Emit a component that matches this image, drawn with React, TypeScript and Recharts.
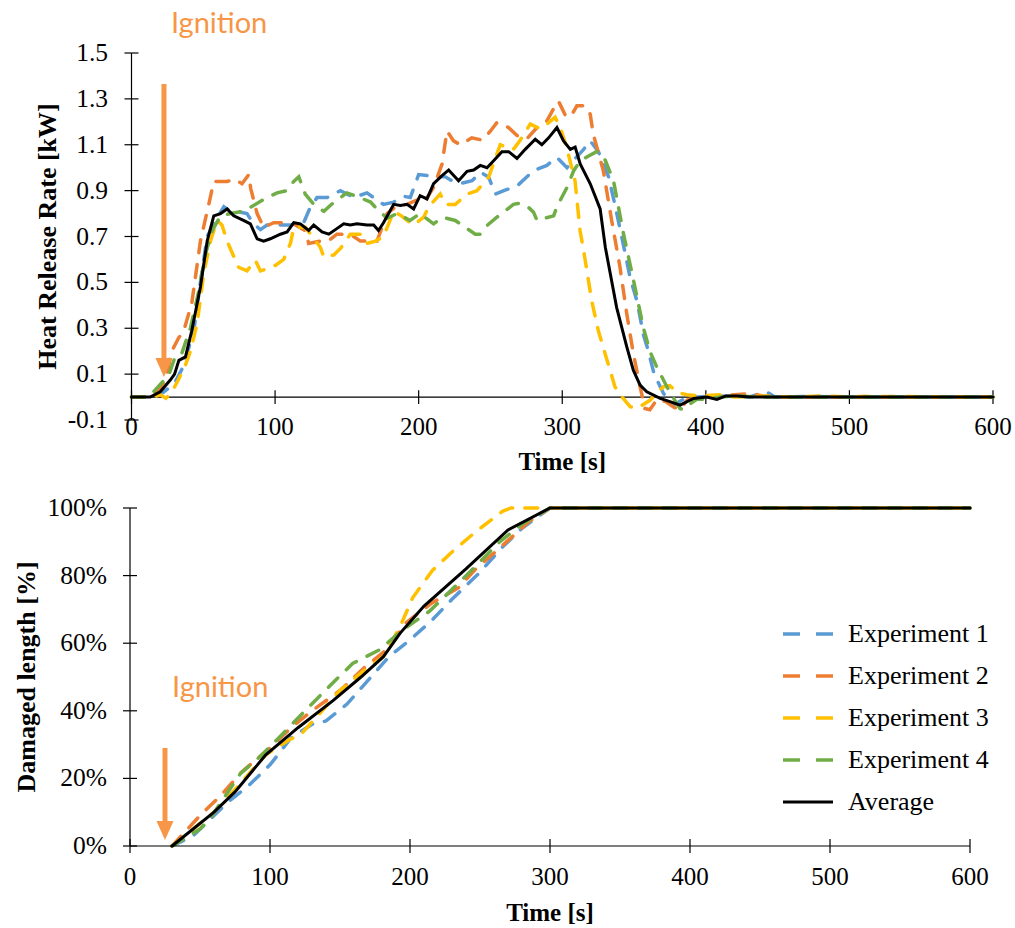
import React from "react";
import { LineChart, Line, XAxis, YAxis, ReferenceLine, Legend } from "recharts";

type Pt = [number, number];

// heat release rate [kW] vs time [s]
const hrrExp1: Pt[] = [
  [0, 0], [15, 0], [22, 0.02], [30, 0.06], [35, 0.12], [38.7, 0.19], [43.4, 0.29], [48, 0.5], [52.7, 0.7],
  [58.5, 0.77], [64.3, 0.83], [68.8, 0.81], [76, 0.806], [80.4, 0.8], [85, 0.755], [89.8, 0.73], [94.4, 0.75],
  [103.7, 0.75], [110.7, 0.75], [119.9, 0.76], [124, 0.82], [129.2, 0.87], [136.3, 0.87], [145.5, 0.9],
  [154.8, 0.87], [164, 0.89], [175.5, 0.84], [182.6, 0.85], [189.6, 0.875], [194.2, 0.87], [200, 0.97],
  [208, 0.964], [218.6, 0.96], [223.2, 0.943], [230.2, 0.933], [237.2, 0.943], [243, 0.98], [248.7, 0.96],
  [253.4, 0.885], [259.3, 0.9], [268.5, 0.92], [280, 0.987], [289.3, 1.01], [296.3, 1.045], [303.3, 1.0],
  [309, 1.04], [314.9, 1.08], [319.5, 1.117], [325.2, 1.07], [332.4, 0.958], [338, 0.8], [342.7, 0.66],
  [347.3, 0.52], [352, 0.42], [356.6, 0.27], [360, 0.2], [364, 0.1], [370.5, 0.016], [377.5, -0.035],
  [384.4, -0.01], [393.7, 0], [410, 0.005], [430, 0], [438, 0.015], [443, 0.02], [448, 0], [470, 0.003],
  [500, 0], [600, 0],
];
const hrrExp2: Pt[] = [
  [0, 0], [12, 0], [18, 0.02], [24, 0.08], [28, 0.2], [33, 0.26], [36, 0.28], [42, 0.41], [48, 0.68],
  [53.8, 0.84], [57.3, 0.94], [62, 0.94], [66.6, 0.94], [72, 0.95], [77, 0.93], [81.7, 0.97], [83, 0.91],
  [87.5, 0.8], [92, 0.74], [99, 0.76], [106, 0.76], [113, 0.755], [121, 0.726], [123.4, 0.67], [131.5, 0.68],
  [137, 0.68], [143, 0.71], [152.4, 0.71], [159.4, 0.68], [164, 0.68], [171, 0.68], [178, 0.8], [185, 0.834],
  [192, 0.84], [199, 0.86], [204, 0.85], [210.4, 0.914], [216.3, 1.016], [219.7, 1.16], [224.3, 1.117],
  [229, 1.1], [237, 1.13], [244.5, 1.12], [250, 1.16], [254.5, 1.197], [262.6, 1.175], [268.5, 1.14],
  [275.4, 1.126], [282.4, 1.175], [289.3, 1.204], [295.1, 1.27], [297.4, 1.29], [302, 1.23], [305.6, 1.22],
  [310.2, 1.27], [316, 1.27], [319.5, 1.233], [321.6, 1.146], [328.6, 0.987], [334.4, 0.77], [340.2, 0.567],
  [344.9, 0.364], [349.5, 0.19], [354.2, 0.045], [357.6, -0.05], [361, -0.055], [366, -0.01], [372, -0.02],
  [378, -0.045], [382, -0.055], [387, -0.013], [395, 0], [420, 0.01], [430, 0.015], [440, 0.005], [460, 0],
  [600, 0],
];
const hrrExp3: Pt[] = [
  [0, 0], [15, 0], [20, 0.01], [24, -0.005], [28, 0.02], [33, 0.08], [37.6, 0.14], [41, 0.2], [45.7, 0.32],
  [50.3, 0.54], [55, 0.68], [59.6, 0.77], [63, 0.75], [66.6, 0.68], [70, 0.63], [74.6, 0.566], [80.4, 0.55],
  [86.3, 0.596], [89.8, 0.55], [95, 0.56], [100.2, 0.574], [106, 0.6], [110.7, 0.67], [113, 0.74], [121, 0.74],
  [126, 0.7], [131.5, 0.653], [134, 0.61], [141, 0.62], [145.8, 0.65], [152.4, 0.71], [159.4, 0.71], [164, 0.67],
  [170, 0.68], [175.5, 0.7], [182.6, 0.81], [188, 0.79], [191.9, 0.77], [196.5, 0.75], [203.5, 0.784],
  [207, 0.83], [215, 0.885], [218.6, 0.84], [225.5, 0.84], [233.7, 0.885], [240.6, 0.9], [248.7, 0.958],
  [256.8, 1.1], [266, 1.08], [270.7, 1.12], [277.7, 1.19], [284.6, 1.17], [289.3, 1.19], [295, 1.22],
  [298.6, 1.175], [303, 1.09], [308.9, 0.943], [312.4, 0.726], [315.9, 0.6], [320.5, 0.42], [325.1, 0.29],
  [329.8, 0.19], [336.7, 0.045], [340.4, 0.009], [347.3, -0.042], [352, -0.05], [357, -0.03], [361.3, -0.013],
  [366, 0.02], [370.5, 0.045], [375, 0.05], [380, 0.02], [386.8, 0.01], [395, 0.005], [410, 0.01], [420, 0],
  [440, 0.005], [460, 0], [480, 0.005], [500, 0], [510, 0.003], [600, 0],
];
const hrrExp4: Pt[] = [
  [0, 0], [12, 0], [17.5, 0.038], [26, 0.096], [30.6, 0.18], [35, 0.19], [41, 0.3], [46.8, 0.46], [51.4, 0.62],
  [56.2, 0.726], [62, 0.79], [69, 0.8], [78, 0.81], [85, 0.835], [94.4, 0.87], [101.4, 0.89], [108, 0.9],
  [113, 0.94], [116.5, 0.96], [121, 0.885], [127, 0.84], [134, 0.81], [141, 0.85], [150, 0.89], [157, 0.875],
  [166.5, 0.85], [171, 0.82], [178, 0.78], [185, 0.8], [194, 0.77], [201, 0.8], [210.4, 0.755], [216.3, 0.784],
  [225.5, 0.77], [229, 0.755], [239.4, 0.71], [242.9, 0.71], [248, 0.75], [254.5, 0.784], [260, 0.81],
  [266, 0.84], [270.7, 0.845], [276, 0.83], [280, 0.806], [282.4, 0.77], [288, 0.78], [294, 0.79],
  [296.3, 0.83], [303.3, 0.914], [308, 0.987], [312.5, 1.03], [318, 1.05], [324, 1.07], [328.8, 1.05],
  [335.7, 0.943], [342.7, 0.71], [349.6, 0.51], [356.6, 0.3], [361, 0.2], [365.9, 0.13], [372.9, 0.045],
  [378, -0.01], [382, -0.05], [384.4, -0.055], [389, -0.03], [393.7, -0.01], [400, -0.01], [410, 0],
  [420, 0.005], [440, 0], [600, 0],
];
const hrrAverage: Pt[] = [
  [0, 0], [13, 0], [20, 0.023], [27, 0.074], [30, 0.1], [33, 0.16], [37.6, 0.175], [42, 0.29], [48, 0.48],
  [52.7, 0.68], [57.3, 0.79], [62, 0.8], [66.6, 0.82], [71.2, 0.79], [78, 0.77], [82.8, 0.755], [87.5, 0.69],
  [92, 0.68], [96.7, 0.69], [103.7, 0.71], [108.4, 0.72], [113, 0.76], [117.6, 0.755], [123.4, 0.726],
  [126.9, 0.75], [132.7, 0.72], [137.4, 0.71], [142, 0.73], [147.8, 0.755], [152.4, 0.75], [157, 0.755],
  [164, 0.75], [168.7, 0.75], [172, 0.726], [175.5, 0.76], [182.6, 0.84], [187.2, 0.835], [191.9, 0.84],
  [196.5, 0.82], [201, 0.878], [205.8, 0.864], [210.4, 0.93], [216.3, 0.965], [220.9, 0.99], [227.8, 0.943],
  [233.7, 0.984], [238.3, 0.99], [242.9, 1.01], [247.6, 1.0], [252.2, 1.03], [258, 1.07], [262.7, 1.07],
  [268.5, 1.04], [274.2, 1.08], [281.2, 1.124], [285.8, 1.1], [290.5, 1.13], [296.3, 1.175], [300.9, 1.117],
  [305.6, 1.08], [309, 1.09], [312.5, 1.016], [319.5, 0.93], [326.4, 0.82], [330, 0.653], [333.4, 0.54],
  [337.9, 0.39], [344.9, 0.22], [349.5, 0.117], [354.2, 0.052], [358.9, 0.023], [368.2, -0.006],
  [375, -0.02], [382.1, -0.035], [391.4, -0.006], [400.7, 0], [407.7, -0.01], [414, 0.005], [421.6, 0.005],
  [430.9, 0], [600, 0],
];

// damaged length [%] vs time [s]
const lenExp1: Pt[] = [
  [30, 0], [45, 3], [70, 13], [85, 18], [100, 24], [115, 32], [130, 36], [140, 37], [155, 42], [170, 49],
  [185, 56], [200, 61], [215, 66.5], [230, 73], [250, 81], [265, 88], [280, 94], [300, 100], [600, 100],
];
const lenExp2: Pt[] = [
  [30, 0], [50, 9], [65, 15], [80, 22], [100, 29], [115, 35], [130, 40], [150, 46], [168, 53], [183, 58],
  [197, 66], [216, 72], [235, 76.5], [247, 82], [265, 88.5], [285, 96], [300, 100], [600, 100],
];
const lenExp3: Pt[] = [
  [30, 0], [60, 10], [80, 19], [97, 27], [114, 31.5], [122, 33], [135, 39], [150, 46], [166, 51.5],
  [181, 56], [193, 65], [202, 73.5], [216, 81.5], [230, 87], [247, 93], [266, 99], [272, 100], [600, 100],
];
const lenExp4: Pt[] = [
  [30, 0], [50, 5], [57, 8], [79, 21.5], [93, 26.5], [111, 34], [125, 40], [143, 47.5], [159, 54], [178, 58],
  [195, 64], [214, 69.5], [229, 75.5], [245, 82], [264, 90], [281, 95.5], [300, 100], [600, 100],
];
const lenAverage: Pt[] = [
  [30, 0], [60, 10], [75, 16], [97, 27], [120, 35], [145, 43], [165, 50], [181, 56], [193, 63], [210, 71],
  [240, 82], [270, 93.5], [300, 100], [600, 100],
];

const timeTicks = [0, 100, 200, 300, 400, 500, 600];
const hrrTicks = [-0.1, 0.1, 0.3, 0.5, 0.7, 0.9, 1.1, 1.3, 1.5];
const lengthTicks = [0, 20, 40, 60, 80, 100];

const seriesNames = ["Experiment 1", "Experiment 2", "Experiment 3", "Experiment 4", "Average"];
const seriesColors = ["#5B9BD5", "#ED7D31", "#FFC000", "#70AD47", "#000000"];

// ignition marker: time, arrow top, arrow tip
const ignitionHrr = [22.6, 1.365, 0.087];
const ignitionLength = [25, 29, 1.8];

const SERIF = "'Liberation Serif', 'Times New Roman', serif";
const ARROW = "#F79646";

const toRows = (pts: Pt[]) => pts.map(([t, v]) => ({ t, v }));

const lineStyle = (i: number) =>
  i < 4
    ? { strokeWidth: 3.5, strokeDasharray: "13 12", strokeLinecap: "round" as const }
    : { strokeWidth: 3, strokeLinecap: "round" as const };

const IgnitionArrow = (p: any) => {
  const { x1, y1, x2, y2 } = p;
  const head = 19;
  return (
    <g>
      <line x1={x1} y1={y1} x2={x2} y2={y2 - head + 1} stroke={ARROW} strokeWidth={5} />
      <polygon points={`${x2 - 8.5},${y2 - head} ${x2 + 8.5},${y2 - head} ${x2},${y2}`} fill={ARROW} />
      <text x={x1 + 7} y={y1 - 51} fill={ARROW} fontFamily="Lato, 'Open Sans', sans-serif" fontSize={29}>
        Ignition
      </text>
    </g>
  );
};

// y tick: label plus a mark crossing the axis line
const YTick = (p: any) => {
  const ax = p.x + p.gap;
  return (
    <g>
      <line x1={ax - 7} x2={ax + 7} y1={p.y} y2={p.y} stroke="#000" strokeWidth={1.2} />
      <text x={p.x} y={p.y + 8} textAnchor="end" fontFamily={SERIF} fontSize={25.5} fill="#000">
        {p.fmt(p.payload.value)}
      </text>
    </g>
  );
};

const XTick = (p: any) => (
  <g>
    {p.cross && <line x1={p.x} x2={p.x} y1={p.y - 7} y2={p.y + 7} stroke="#000" strokeWidth={1.2} />}
    <text x={p.x} y={p.y + p.drop} textAnchor="middle" fontFamily={SERIF} fontSize={25} fill="#000">
      {p.payload.value}
    </text>
  </g>
);

const xTitle = (drop: number) => (p: any) => {
  const vb = p.viewBox;
  return (
    <text x={vb.x + vb.width / 2} y={vb.y + drop} textAnchor="middle" fontFamily={SERIF} fontSize={25} fontWeight="bold" fill="#000">
      Time [s]
    </text>
  );
};

const yTitle = (text: string, base: number) => (p: any) => {
  const vb = p.viewBox;
  return (
    <text
      transform={`translate(${vb.x + base},${vb.y + vb.height / 2}) rotate(-90)`}
      textAnchor="middle"
      fontFamily={SERIF}
      fontSize={26}
      fontWeight="bold"
      fill="#000"
    >
      {text}
    </text>
  );
};

const LegendBox = () => (
  <div style={{ fontFamily: SERIF, fontSize: 26, color: "#000" }}>
    {seriesNames.map((n, i) => (
      <div key={n} style={{ display: "flex", alignItems: "center", height: 42 }}>
        <svg width={68} height={10}>
          <line
            x1={3}
            x2={53}
            y1={5}
            y2={5}
            stroke={seriesColors[i]}
            strokeWidth={i < 4 ? 3.5 : 3}
            strokeDasharray={i < 4 ? "17 16" : undefined}
          />
        </svg>
        <span style={{ lineHeight: "42px" }}>{n}</span>
      </div>
    ))}
  </div>
);

export default function App() {
  const hrrSeries = [hrrExp1, hrrExp2, hrrExp3, hrrExp4, hrrAverage];
  const lenSeries = [lenExp1, lenExp2, lenExp3, lenExp4, lenAverage];

  return (
    <div style={{ position: "absolute", left: 0, top: 0, width: 1015, height: 928, background: "#fff" }}>

      <div style={{ position: "absolute", left: 0, top: 0 }}>
        <LineChart width={1015} height={480} margin={{ top: 53, right: 22, bottom: 0, left: 0 }}>
          <XAxis
            dataKey="t"
            type="number"
            domain={[0, 600]}
            ticks={timeTicks}
            axisLine={false}
            tickLine={false}
            tickSize={0}
            tickMargin={0}
            height={60}
            tick={(p: any) => <XTick {...p} drop={15} cross={false} />}
            label={xTitle(50)}
          />
          <YAxis
            type="number"
            domain={[-0.1, 1.5]}
            ticks={hrrTicks}
            width={131.5}
            axisLine={{ stroke: "#000", strokeWidth: 1.2 }}
            tickLine={false}
            tickSize={0}
            tickMargin={23.5}
            tick={(p: any) => <YTick {...p} gap={23.5} fmt={(v: number) => v.toFixed(1)} />}
            label={yTitle("Heat Release Rate [kW]", 56)}
          />
          <ReferenceLine y={0} stroke="#000" strokeWidth={1.2} />
          {timeTicks.map((t) => (
            <ReferenceLine key={t} segment={[{ x: t, y: -0.03 }, { x: t, y: 0.03 }]} stroke="#000" strokeWidth={1.2} />
          ))}
          {hrrSeries.map((s, i) => (
            <Line
              key={seriesNames[i]}
              name={seriesNames[i]}
              data={toRows(s)}
              dataKey="v"
              type="linear"
              stroke={seriesColors[i]}
              {...lineStyle(i)}
              dot={false}
              activeDot={false}
              isAnimationActive={false}
            />
          ))}
          <ReferenceLine
            segment={[{ x: ignitionHrr[0], y: ignitionHrr[1] }, { x: ignitionHrr[0], y: ignitionHrr[2] }]}
            shape={IgnitionArrow}
          />
        </LineChart>
      </div>

      <div style={{ position: "absolute", left: 0, top: 480 }}>
        <LineChart width={1015} height={448} margin={{ top: 28, right: 45, bottom: 0, left: 0 }}>
          <XAxis
            dataKey="t"
            type="number"
            domain={[0, 600]}
            ticks={timeTicks}
            axisLine={{ stroke: "#000", strokeWidth: 1.2 }}
            tickLine={false}
            tickSize={0}
            tickMargin={0}
            height={82}
            tick={(p: any) => <XTick {...p} drop={39} cross={true} />}
            label={xTitle(75)}
          />
          <YAxis
            type="number"
            domain={[0, 100]}
            ticks={lengthTicks}
            width={130}
            axisLine={{ stroke: "#000", strokeWidth: 1.2 }}
            tickLine={false}
            tickSize={0}
            tickMargin={23}
            tick={(p: any) => <YTick {...p} gap={23} fmt={(v: number) => `${v}%`} />}
            label={yTitle("Damaged length [%]", 35)}
          />
          {lenSeries.map((s, i) => (
            <Line
              key={seriesNames[i]}
              name={seriesNames[i]}
              data={toRows(s)}
              dataKey="v"
              type="linear"
              stroke={seriesColors[i]}
              {...lineStyle(i)}
              dot={false}
              activeDot={false}
              isAnimationActive={false}
            />
          ))}
          <ReferenceLine
            segment={[{ x: ignitionLength[0], y: ignitionLength[1] }, { x: ignitionLength[0], y: ignitionLength[2] }]}
            shape={IgnitionArrow}
          />
          <Legend
            layout="vertical"
            align="center"
            verticalAlign="middle"
            wrapperStyle={{ left: 780, top: 133, width: 235 }}
            content={() => <LegendBox />}
          />
        </LineChart>
      </div>

    </div>
  );
}
